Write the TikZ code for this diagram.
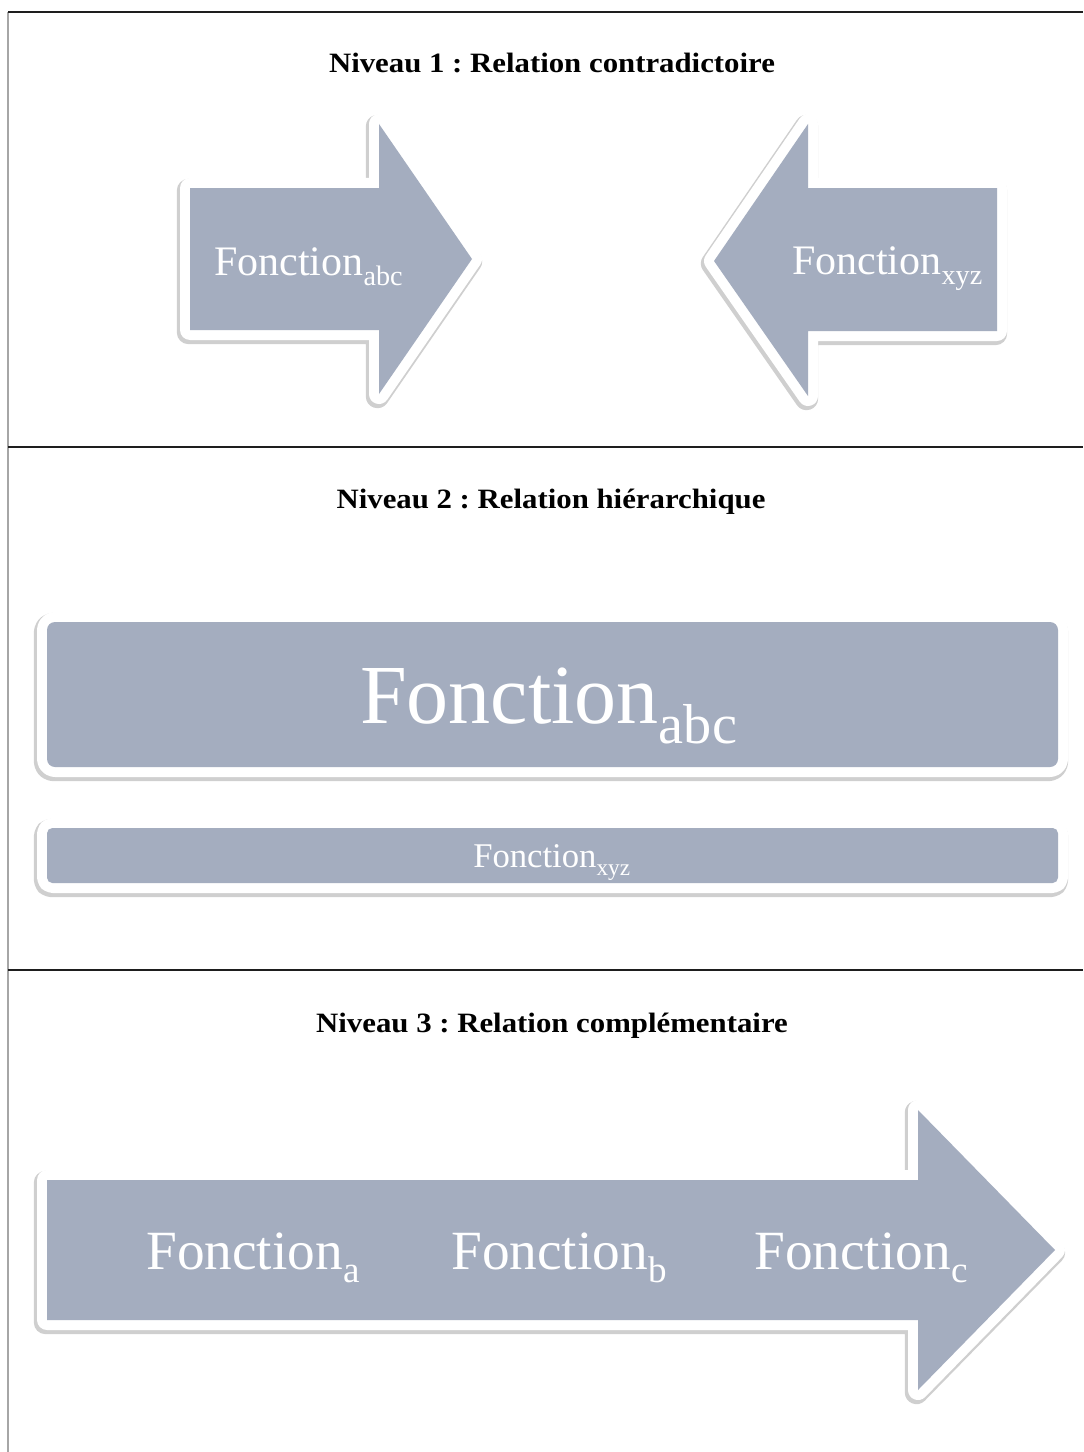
\documentclass[tikz,border=0pt]{standalone}
\usepackage{fontspec}
\setmainfont{Liberation Serif}
\newfontfamily\titrefont[FakeStretch=1.1]{Liberation Serif}
\usepackage{tikz}
\definecolor{grisbleu}{RGB}{164,173,191}
\definecolor{cadre}{RGB}{30,30,30}
\frenchspacing

\newcommand{\indice}[1]{\raisebox{-0.24em}{\scalebox{0.67}{#1}}}
% contours des formes (unites : pixels)
\newcommand{\flecheD}{(190,188) -- (379,188) -- (379,124) -- (472,259) -- (379,394) -- (379,330) -- (190,330) -- cycle}
\newcommand{\flecheG}{(997,188) -- (808,188) -- (808,124) -- (714,261) -- (808,396) -- (808,331) -- (997,331) -- cycle}
\newcommand{\barreA}{[rounded corners=6pt] (47,622) rectangle (1058,767)}
\newcommand{\barreB}{[rounded corners=4pt] (47,828) rectangle (1058,883)}
\newcommand{\flecheL}{(47,1180) -- (918,1180) -- (918,1110) -- (1055,1250) -- (918,1390) -- (918,1320) -- (47,1320) -- cycle}

\begin{document}
\begin{tikzpicture}[
    x=0.75pt, y=-0.75pt,
    forme/.style={fill=grisbleu},
    lisere/.style={draw=white, line width=15pt, line join=round},
    ombre/.style={draw=gray!38, line width=17.5pt, line join=round, shift={(-1.5,2.5)}},
    trait/.style={draw=cadre, line width=1.2pt},
    bordg/.style={draw=gray!70, line width=1pt},
    titre/.style={font=\titrefont\bfseries\fontsize{21pt}{25pt}\selectfont, anchor=base, inner sep=0pt},
    etiq/.style={text=white, anchor=base west, inner sep=0pt}
]
\useasboundingbox (0,0) rectangle (1083,1452);

% cadre du tableau
\coordinate (hg) at (8,12);   \coordinate (hd) at (1083,12);
\coordinate (s1g) at (8,447); \coordinate (s1d) at (1083,447);
\coordinate (s2g) at (8,970); \coordinate (s2d) at (1083,970);
\coordinate (bg) at (8,1452);
\draw[bordg] (hg) -- (bg);
\draw[trait] (hg) -- (hd);
\draw[trait] (s1g) -- (s1d);
\draw[trait] (s2g) -- (s2d);

% niveau 1
\node[titre] (niv1) at (552,73) {Niveau 1 : Relation contradictoire};
\draw[ombre] \flecheD; \draw[lisere] \flecheD; \fill[forme] \flecheD;
\draw[ombre] \flecheG; \draw[lisere] \flecheG; \fill[forme] \flecheG;
\node[etiq, font=\fontsize{31.5pt}{36pt}\selectfont] (fabc) at (214,275) {Fonction\indice{abc}};
\node[etiq, font=\fontsize{31.5pt}{36pt}\selectfont] (fxyz) at (792,274) {Fonction\indice{xyz}};

% niveau 2
\node[titre] (niv2) at (551,508) {Niveau 2 : Relation hiérarchique};
\draw[ombre] \barreA; \draw[lisere] \barreA; \fill[forme] \barreA;
\draw[ombre] \barreB; \draw[lisere] \barreB; \fill[forme] \barreB;
\node[etiq, font=\fontsize{63pt}{70pt}\selectfont] (gabc) at (360,723) {Fonction\indice{abc}};
\node[etiq, font=\fontsize{26pt}{30pt}\selectfont] (gxyz) at (473,867) {Fonction\indice{xyz}};

% niveau 3
\node[titre] (niv3) at (552,1032) {Niveau 3 : Relation complémentaire};
\draw[ombre] \flecheL; \draw[lisere] \flecheL; \fill[forme] \flecheL;
\node[etiq, font=\fontsize{41.5pt}{46pt}\selectfont] (fa) at (146,1269) {Fonction\indice{a}};
\node[etiq, font=\fontsize{41.5pt}{46pt}\selectfont] (fb) at (451,1269) {Fonction\indice{b}};
\node[etiq, font=\fontsize{41.5pt}{46pt}\selectfont] (fc) at (754,1269) {Fonction\indice{c}};
\end{tikzpicture}
\end{document}
